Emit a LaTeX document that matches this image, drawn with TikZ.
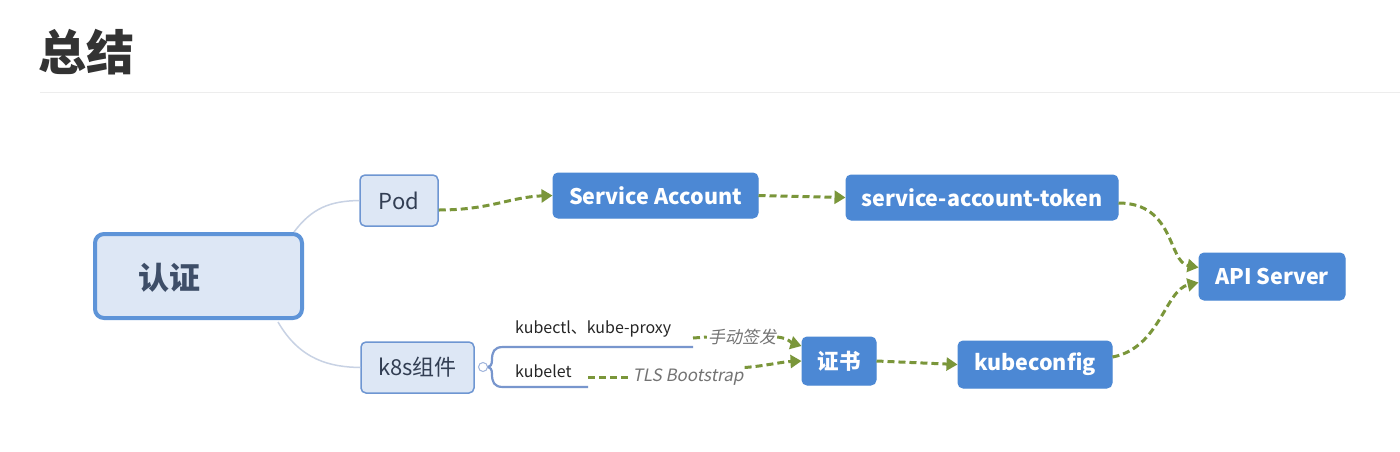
\documentclass[tikz,border=0pt]{standalone}
\usepackage{fontspec}
\setmainfont{Noto Sans CJK SC}
\newfontfamily\slfont{Noto Sans CJK SC}[FakeSlant=0.2]
\usetikzlibrary{arrows.meta}
\definecolor{boxblue}{RGB}{76,136,212}
\definecolor{lightfill}{RGB}{221,231,245}
\definecolor{lightborder}{RGB}{110,150,210}
\definecolor{greendash}{RGB}{122,150,58}
\definecolor{branch}{RGB}{200,210,228}
\definecolor{underl}{RGB}{120,150,205}
\definecolor{titlegray}{RGB}{51,51,51}
\definecolor{roottext}{RGB}{62,78,104}
\tikzset{
  bluebox/.style={draw=boxblue, fill=boxblue, rounded corners=5pt, line width=1pt, text=white, font=\fontsize{21.5}{24}\selectfont\bfseries, inner sep=0pt},
  subbox/.style={draw=lightborder, fill=lightfill, rounded corners=5pt, line width=1.5pt, text=roottext!80!black, font=\fontsize{22}{24}\selectfont, inner sep=0pt},
  rootbox/.style={draw=boxblue!90, fill=lightfill, rounded corners=9pt, line width=4pt, inner sep=0pt},
  flow/.style={draw=greendash, line width=3pt, dash pattern=on 7pt off 4pt, -{Triangle[length=11pt,width=13pt]}},
  flownoarrow/.style={draw=greendash, line width=3pt, dash pattern=on 7pt off 4pt},
  branchline/.style={draw=branch, line width=1.5pt},
  uline/.style={draw=underl, line width=2.2pt},
  smalltext/.style={font=\fontsize{16}{18}\selectfont, text=black!85, inner sep=0pt},
  edgelabel/.style={font=\slfont\fontsize{17}{19}\selectfont, text=black!55, inner sep=1pt, fill=white}
}
\begin{document}
\begin{tikzpicture}[x=1pt,y=-1pt]
\useasboundingbox (0,0) rectangle (1400,451);
\fill[white] (0,0) rectangle (1400,451);
% title
\node[anchor=west, text=titlegray, font=\fontsize{48}{52}\selectfont\bfseries, inner sep=0pt] (title) at (38,52) {总结};
\coordinate (hl1) at (40,92);
\coordinate (hl2) at (1400,92);
\draw[black!7, line width=1pt] (hl1) -- (hl2);

% root
\node[rootbox, minimum width=207pt, minimum height=84pt] (auth) at (198.5,276) {};
\node[text=roottext, font=\fontsize{31}{34}\selectfont\bfseries, inner sep=0pt] (authtext) at (169,278) {认证};

% sub nodes
\node[subbox, minimum width=78pt, minimum height=51pt] (pod) at (399,200.5) {Pod};
\node[subbox, minimum width=113pt, minimum height=51pt] (k8s) at (417.5,367.5) {k8s组件};

\draw[branchline] (auth.north east) ++(-10,0) coordinate (b1) .. controls (312,208) and (330,201) .. (pod.west);
\draw[branchline] (auth.south east) ++(-26,2) coordinate (b2) .. controls (300,360) and (330,367) .. (k8s.west);

% blue boxes
\node[bluebox, minimum width=205pt, minimum height=45pt] (sa) at (655.5,195.5) {Service Account};
\node[bluebox, minimum width=272pt, minimum height=45pt] (token) at (982,197.5) {service-account-token};
\node[bluebox, minimum width=146pt, minimum height=47pt] (api) at (1272,276.5) {API Server};
\node[bluebox, minimum width=74pt, minimum height=48pt] (cert) at (839,361) {证书};
\node[bluebox, minimum width=154pt, minimum height=47pt] (kcfg) at (1035,364.5) {kubeconfig};

% bracket
\node[draw=underl!70, fill=white, circle, line width=1pt, minimum size=9pt, inner sep=0pt] (circ) at (483,367) {};
\node[smalltext, anchor=south west] (kubectl) at (515,337) {kubectl、kube-proxy};
\node[smalltext, anchor=south west] (kubelet) at (515,378) {kubelet};
\coordinate (u1a) at (503,347);
\coordinate (u1b) at (693,347);
\coordinate (u2a) at (503,387);
\coordinate (u2b) at (588,387);
\draw[uline] (u1b) -- (u1a) .. controls (494,347) and (492,352) .. (492,360) .. controls (492,365) and (490,367) .. (circ.east);
\draw[uline] (u2b) -- (u2a) .. controls (494,387) and (492,382) .. (492,374) .. controls (492,369) and (490,367) .. (circ.east);

% flows
\draw[flow] (pod.east |- 0,210) coordinate (p1) .. controls (490,210) and (510,197) .. (sa.west);
\draw[flow] (sa.east) -- (token.west);
\draw[flow] (token.east |- 0,203) coordinate (t1) .. controls (1175,203) and (1168,262) .. ([yshift=9pt]api.west);
\draw[flow] (kcfg.east |- 0,357) coordinate (k1) .. controls (1160,348) and (1165,290) .. ([yshift=-6pt]api.west);
\draw[flow] (cert.east) -- (kcfg.west);

\node[edgelabel] (manual) at (742,337) {手动签发};
\draw[flownoarrow] (u1b |- 0,338) coordinate (m0) -- (manual.west);
\draw[flow] (manual.east) .. controls (788,338) and (792,343) .. ([yshift=15pt]cert.west);

\node[edgelabel] (tls) at (688,377) {TLS Bootstrap};
\draw[flownoarrow] (u2b |- 0,377) coordinate (l0) -- (tls.west);
\draw[flow] (tls.north east) .. controls (765,366) and (780,362) .. (cert.west);
\end{tikzpicture}
\end{document}
